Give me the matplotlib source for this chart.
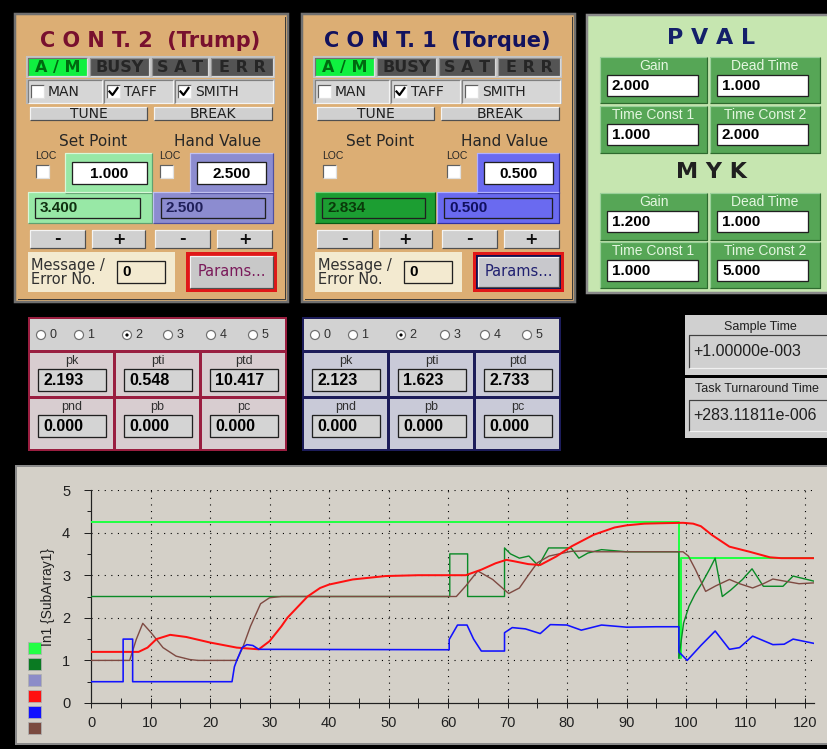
import numpy as np
import matplotlib
matplotlib.use("Agg")
import matplotlib.pyplot as plt
from matplotlib.patches import Rectangle, Circle
from matplotlib.ticker import MultipleLocator

# ---------------- DATA ----------------
# chart series (time, value)
lgreen_t = [0, 98.8, 98.8, 99.1, 99.1, 121.5]
lgreen_v = [4.25, 4.25, 1.05, 1.05, 3.4, 3.4]

dgreen_t = [0, 60.3, 60.3, 63.3, 63.3, 69.5, 69.5, 70.5, 72, 73.6, 75.2, 76.9, 80.7, 82, 83.5, 85.8,
            90, 95, 98.8, 98.8, 99.6, 100.5, 101.5, 102.7, 104, 104.9, 106.1, 107.5, 109.5, 111.1,
            113, 116.3, 118, 121.5]
dgreen_v = [2.5, 2.5, 3.5, 3.5, 2.5, 2.5, 3.64, 3.5, 3.4, 3.45, 3.22, 3.64, 3.64, 3.4, 3.52, 3.6,
            3.55, 3.55, 3.55, 1.05, 1.88, 2.27, 2.55, 2.82, 3.15, 3.4, 2.5, 2.65, 2.9, 3.15,
            2.74, 2.74, 2.98, 2.86]

red_t = [0, 8.0, 9.5, 11, 13.3, 16, 20, 24.5, 28.2, 30, 32, 33, 36.4, 38.5, 40, 44, 49.5, 55, 63,
         65.6, 68, 69.8, 71, 73.5, 75.5, 78.2, 80.8, 84.5, 88, 90, 93, 95.9, 99.5, 101.2, 102.5,
         104.4, 107.3, 110.7, 114.1, 116, 121.5]
red_v = [1.2, 1.2, 1.3, 1.5, 1.6, 1.55, 1.42, 1.3, 1.26, 1.45, 1.8, 2.0, 2.5, 2.7, 2.78, 2.9, 2.98,
         3.0, 3.0, 3.13, 3.28, 3.36, 3.33, 3.26, 3.24, 3.44, 3.68, 3.95, 4.12, 4.17, 4.21, 4.22,
         4.23, 4.21, 4.15, 3.94, 3.67, 3.55, 3.42, 3.4, 3.4]

blue_t = [0, 5.4, 5.4, 7.0, 7.0, 23.7, 24.1, 24.5, 25.4, 26.2, 27.2, 28.2, 60.2, 60.2, 61.6, 63.2,
          64.3, 65.6, 69.5, 69.5, 70.8, 73, 75.5, 77.2, 80, 82.4, 85.8, 90, 95, 98.8, 98.8, 100.2,
          102.5, 104.9, 107.3, 109, 111.2, 114.6, 116.5, 118, 121.5]
blue_v = [0.5, 0.5, 1.5, 1.5, 0.5, 0.5, 0.85, 1.0, 1.3, 1.37, 1.35, 1.26, 1.25, 1.49, 1.83, 1.83,
          1.5, 1.22, 1.22, 1.65, 1.77, 1.74, 1.63, 1.84, 1.83, 1.71, 1.83, 1.78, 1.79, 1.79, 1.2,
          1.0, 1.35, 1.69, 1.26, 1.3, 1.57, 1.37, 1.38, 1.5, 1.4]

brown_t = [0, 6.5, 7.6, 8.7, 10.1, 12.1, 14.3, 16.6, 18, 24.5, 25.5, 26.8, 28.5, 30, 32, 34, 61.4,
           63, 65, 67.5, 70.2, 72, 73.5, 75, 77, 80.7, 83, 85, 90, 95, 99.5, 100.4, 101.6, 103.3,
           105, 107.3, 109, 111.2, 113, 114.6, 117, 119, 121.5]
brown_v = [1.0, 1.0, 1.49, 1.87, 1.65, 1.3, 1.1, 1.02, 1.0, 1.0, 1.3, 1.8, 2.33, 2.47, 2.5, 2.5, 2.5,
           2.75, 3.1, 2.9, 2.57, 2.7, 3.0, 3.29, 3.45, 3.56, 3.57, 3.55, 3.55, 3.55, 3.55, 3.45,
           3.13, 2.62, 2.75, 2.9, 2.8, 2.7, 2.8, 2.91, 2.85, 2.8, 2.82]

legend_colors = ['#22ff44', '#0a7a22', '#8c8cc8', '#ff1010', '#1010ff', '#7a4a40']
x_ticks = [0, 10, 20, 30, 40, 50, 60, 70, 80, 90, 100, 110, 120]
y_ticks = [0, 1, 2, 3, 4, 5]
y_label = 'In1 {SubArray1}'

cont_titles = ['C O N T. 2  (Trump)', 'C O N T. 1  (Torque)']
indicators = ['A / M', 'BUSY', 'S A T', 'E R R']
check_labels = ['MAN', 'TAFF', 'SMITH']
cont2_checks = [False, True, True]
cont1_checks = [False, True, False]
cont2_sp, cont2_hv, cont2_sp_out, cont2_hv_out = '1.000', '2.500', '3.400', '2.500'
cont1_hv, cont1_sp_out, cont1_hv_out = '0.500', '2.834', '0.500'
msg_values = ['0', '0']

pval_labels = ['Gain', 'Dead Time', 'Time Const 1', 'Time Const 2']
pval_values = ['2.000', '1.000', '1.000', '2.000']
myk_values = ['1.200', '1.000', '1.000', '5.000']

radio_labels = ['0', '1', '2', '3', '4', '5']
radio_selected = 2
param_labels = ['pk', 'pti', 'ptd', 'pnd', 'pb', 'pc']
cont2_params = ['2.193', '0.548', '10.417', '0.000', '0.000', '0.000']
cont1_params = ['2.123', '1.623', '2.733', '0.000', '0.000', '0.000']

sample_time = '+1.00000e-003'
turnaround_time = '+283.11811e-006'

# ---------------- FIGURE ----------------
W, H = 827, 749
fig = plt.figure(figsize=(W / 100, H / 100), dpi=100, facecolor='black')
bg = fig.add_axes([0, 0, 1, 1])
bg.set_xlim(0, W)
bg.set_ylim(H, 0)
bg.axis('off')
bg.set_facecolor('black')

SANS = ['Liberation Sans', 'DejaVu Sans']
WIDE = ['DejaVu Sans']
NARROW = ['Liberation Sans Narrow', 'Liberation Sans', 'DejaVu Sans']
PX = 0.72  # one pixel in points

# background dots
gx, gy = np.meshgrid(np.arange(3, W, 9), np.arange(4, H, 9))
bg.scatter(gx.ravel(), gy.ravel(), s=0.35, c='#555555', marker='s', linewidths=0, zorder=0)


def box(x0, y0, x1, y1, fc, ec='none', lw=0, z=1):
    bg.add_patch(Rectangle((x0, y0), x1 - x0, y1 - y0, facecolor=fc, edgecolor=ec,
                           linewidth=lw, zorder=z))


def bevel(x0, y0, x1, y1, fc, raised=True, z=2, light='#f4f4f4', dark='#505050', lw=1.2):
    box(x0, y0, x1, y1, fc, z=z)
    a, b = (light, dark) if raised else (dark, light)
    bg.plot([x0, x0, x1], [y1, y0, y0], color=a, lw=lw * PX, zorder=z + 0.1, solid_capstyle='butt')
    bg.plot([x0, x1, x1], [y1, y1, y0], color=b, lw=lw * PX, zorder=z + 0.1, solid_capstyle='butt')


def txt(x, y, s, size=9, color='black', weight='normal', ha='center', family=SANS, z=5, **kw):
    bg.text(x, y, s, fontsize=size, color=color, fontweight=weight, ha=ha, va='center',
            family=family, zorder=z, **kw)


def field(x0, y0, x1, y1, value, fc='white', tc='black', size=10.5, ha='left', family=SANS,
          weight='bold', z=3, ec='#202020'):
    box(x0, y0, x1, y1, fc, ec=ec, lw=1.3 * PX, z=z)
    if ha == 'left':
        txt(x0 + 5, (y0 + y1) / 2 + 0.5, value, size=size, color=tc, weight=weight, ha='left',
            family=family, z=z + 1)
    else:
        txt((x0 + x1) / 2, (y0 + y1) / 2 + 0.5, value, size=size, color=tc, weight=weight,
            family=family, z=z + 1)


def checkbox(x, y, checked, s=13):
    bevel(x, y, x + s, y + s, 'white', raised=False, z=4, dark='#606060', light='#e0e0e0')
    if checked:
        bg.plot([x + 2.5, x + 5.5, x + 10.5], [y + 6.5, y + 10, y + 3], color='black', lw=2.2 * PX, zorder=5)


# ---------------- CONTROLLER PANELS ----------------
def controller(dx, title, tcol, checks, is2):
    tan = '#dcae74'
    box(15 + dx, 14, 288 + dx, 302, tan, ec='#707070', lw=2.5 * PX, z=1)
    bg.plot([18 + dx, 285 + dx, 285 + dx], [299, 299, 17], color='#3a3a3a', lw=PX, zorder=1.5)
    txt(150 + dx, 41, title, size=15, color=tcol, weight='bold', family=WIDE)
    # indicators
    box(26 + dx, 56, 275 + dx, 78, '#c4c4c4', z=2)
    ind_x = [(28, 87), (90, 149), (152, 208), (211, 273)]
    for i, (a, b) in enumerate(ind_x):
        if i == 0:
            bevel(a + dx, 58, b + dx, 76, '#10f040', raised=False, z=3, dark='#707070', light='#e0e0e0')
            txt((a + b) / 2 + dx, 67.5, indicators[i], size=11.5, color='#006a10', weight='bold',
                family=WIDE)
        else:
            bevel(a + dx, 58, b + dx, 76, '#545454', raised=False, z=3, dark='#909090', light='#d8d8d8')
            txt((a + b) / 2 + dx, 67.5, indicators[i], size=11.5, color='#262626', weight='bold',
                family=WIDE)
    # check boxes
    box(26 + dx, 79, 275 + dx, 104, '#b8b8b8', z=2)
    cb_x = [(28, 102), (104, 173), (175, 273)]
    for i, (a, b) in enumerate(cb_x):
        bevel(a + dx, 80, b + dx, 103, '#d6d6d6', raised=False, z=3, dark='#808080', light='#f4f4f4')
        checkbox(a + 3 + dx, 85, checks[i])
        txt(a + 20 + dx, 92, check_labels[i], size=10, color='#202020', ha='left', family=WIDE)
    # tune / break
    bevel(30 + dx, 107, 147 + dx, 120, '#d0d0d0', z=3)
    bevel(154 + dx, 107, 272 + dx, 120, '#d0d0d0', z=3)
    txt(88.5 + dx, 114, 'TUNE', size=10, color='#202020', family=WIDE)
    txt(213 + dx, 114, 'BREAK', size=10, color='#202020', family=WIDE)
    txt(93 + dx, 142, 'Set Point', size=11, color='#262626', family=WIDE)
    txt(218 + dx, 142, 'Hand Value', size=11, color='#262626', family=WIDE)
    txt(35 + dx, 156, 'LOC', size=7.5, color='#262626', ha='left')
    txt(159 + dx, 156, 'LOC', size=7.5, color='#262626', ha='left')
    checkbox(36 + dx, 165, False)
    checkbox(160 + dx, 165, False)
    if is2:
        sp_light, hv = '#98e8a6', '#8c8cd0'
        bevel(65 + dx, 153, 152 + dx, 193, sp_light, z=2, light='#d8f8d8', dark='#60a070')
        field(72 + dx, 162, 147 + dx, 184, cont2_sp, ha='center', size=11)
        bevel(28 + dx, 192, 152 + dx, 223, sp_light, z=2, light='#d8f8d8', dark='#60a070')
        field(35 + dx, 198, 140 + dx, 218, cont2_sp_out, fc=sp_light, tc='#103010', size=11)
        bevel(190 + dx, 153, 273 + dx, 193, hv, z=2, light='#c0c0f0', dark='#5050a0')
        field(197 + dx, 162, 266 + dx, 184, cont2_hv, ha='center', size=11)
        bevel(153 + dx, 192, 273 + dx, 223, hv, z=2, light='#c0c0f0', dark='#5050a0')
        field(161 + dx, 198, 265 + dx, 218, cont2_hv_out, fc=hv, tc='#20205a', size=11)
    else:
        sp_dark, hv = '#1c9e32', '#6a6af0'
        bevel(28 + dx, 192, 148 + dx, 223, sp_dark, z=2, light='#80d080', dark='#0a5a14')
        field(35 + dx, 198, 138 + dx, 218, cont1_sp_out, fc=sp_dark, tc='#0a3a0a', size=11)
        bevel(190 + dx, 153, 272 + dx, 193, hv, z=2, light='#b0b0ff', dark='#3030a0')
        field(197 + dx, 162, 266 + dx, 184, cont1_hv, ha='center', size=11)
        bevel(150 + dx, 192, 272 + dx, 223, hv, z=2, light='#b0b0ff', dark='#3030a0')
        field(157 + dx, 198, 265 + dx, 218, cont1_hv_out, fc=hv, tc='#101060', size=11)
    for (a, b), s in zip([(30, 85), (92, 145), (155, 210), (217, 272)], ['-', '+', '-', '+']):
        bevel(a + dx, 230, b + dx, 248, '#d0d0d0', z=3)
        txt((a + b) / 2 + dx, 239, s, size=11.5, weight='bold', color='#101010', family=WIDE)
    # message
    box(28 + dx, 252, 175 + dx, 292, '#f3ead0', z=2)
    bg.text(31 + dx, 272.5, 'Message /\nError No.', fontsize=10.5, color='#303030', ha='left',
            va='center', linespacing=0.85, family=WIDE, zorder=5)
    field(117 + dx, 261, 165 + dx, 283, msg_values[0 if is2 else 1], fc='#f3ead0', size=11)
    # params
    box(186 + dx, 252, 277 + dx, 292, '#e01818', z=2)
    if not is2:
        box(189 + dx, 255, 274 + dx, 289, '#101050', z=2.2)
        bevel(191 + dx, 257, 272 + dx, 287, '#c8c8cc', z=2.5)
        txt(231.5 + dx, 272, 'Params...', size=10.5, color='#202070', family=WIDE)
    else:
        bevel(190 + dx, 256, 273 + dx, 288, '#c8c8c8', z=2.5)
        txt(231.5 + dx, 272, 'Params...', size=10.5, color='#7a1a5a', family=WIDE)


controller(0, cont_titles[0], '#78102e', cont2_checks, True)
controller(287, cont_titles[1], '#12125e', cont1_checks, False)

# ---------------- PVAL / MYK ----------------
box(587, 15, 830, 293, '#c6e6b0', ec='#8a8a8a', lw=2.5 * PX, z=1)
txt(711, 38, 'P V A L', size=16, color='#14206a', weight='bold', family=WIDE)
txt(711, 172, 'M Y K', size=16, color='#202020', weight='bold', family=WIDE)


def param_grid(y_rows, values):
    cols = [(600, 707), (710, 820)]
    k = 0
    for (ya, yb) in y_rows:
        for (xa, xb) in cols:
            bevel(xa, ya, xb, yb, '#56a656', z=2, light='#9ad09a', dark='#2e6a2e')
            txt((xa + xb) / 2, ya + 9, pval_labels[k], size=10, color='#e4f6e0')
            field(xa + 7, ya + 18, xa + 98, ya + 39, values[k], size=11)
            k += 1


param_grid([(57, 103), (106, 153)], pval_values)
param_grid([(193, 240), (242, 288)], myk_values)

# ---------------- TUNING PARAMETER PANELS ----------------
def tuning(x0, border, cell_fc, values, radio_x):
    x1 = x0 + 259
    box(x0, 317, x1, 451, border, z=1)
    box(x0 + 2, 319, x1 - 2, 350, '#d2d2d2', z=2)
    for i, rx in enumerate(radio_x):
        cx = x0 + rx
        bg.add_patch(Circle((cx, 335), 4.5, facecolor='white', edgecolor='#707070',
                            linewidth=1.2 * PX, zorder=3))
        if i == radio_selected:
            bg.add_patch(Circle((cx, 335), 1.6, facecolor='black', edgecolor='none', zorder=4))
        txt(cx + 12, 335, radio_labels[i], size=9, color='#303030')
    cols = [(x0 + 2, x0 + 85), (x0 + 88, x0 + 171), (x0 + 174, x1 - 2)]
    rows = [(353, 396), (399, 449)]
    k = 0
    for (ya, yb) in rows:
        for (xa, xb) in cols:
            box(xa, ya, xb, yb, cell_fc, z=2)
            txt((xa + xb) / 2, ya + 8, param_labels[k], size=9, color='#303030', family=NARROW)
            field(xa + 8, ya + 16, xb - 7, ya + 38, values[k], fc='#d4d4d4', size=11.5,
                  family=NARROW)
            k += 1


tuning(28, '#9a1e40', '#d8cdd0', cont2_params, [13, 51, 99, 140, 183, 225])
tuning(302, '#1c1c5a', '#c9cad8', cont1_params, [13, 51, 99, 143, 183, 225])

# ---------------- SAMPLE TIME ----------------
box(685, 315, 830, 375, '#d0d0d0', z=1)
txt(760, 327, 'Sample Time', size=9, color='#202020', family=NARROW)
bevel(689, 335, 830, 368, '#d0d0d0', raised=False, z=2, dark='#404040', light='#f0f0f0')
txt(693, 351, sample_time, size=11.5, color='#202020', ha='left', family=NARROW)
box(685, 378, 830, 438, '#d0d0d0', z=1)
txt(757, 389, 'Task Turnaround Time', size=9, color='#202020', family=NARROW)
bevel(689, 400, 830, 431, '#d0d0d0', raised=False, z=2, dark='#404040', light='#f0f0f0')
txt(693, 415, turnaround_time, size=11.5, color='#202020', ha='left', family=NARROW)

# ---------------- CHART PANEL ----------------
box(16, 466, 830, 744, '#d4d0c8', ec='#8a8a8a', lw=2 * PX, z=1)
for i, c in enumerate(legend_colors):
    box(28, 642 + 16 * i, 41, 654 + 16 * i, c, ec='#b0b0b0', lw=0.8 * PX, z=3)

x_left, x_right = 0, 121.5
ax_l, ax_r, ax_t, ax_b = 91, 91 + 5.95 * 121.5, 490, 703
ax = fig.add_axes([ax_l / W, 1 - ax_b / H, (ax_r - ax_l) / W, (ax_b - ax_t) / H])
ax.set_facecolor('#d4d0c8')
ax.set_xlim(x_left, x_right)
ax.set_ylim(0, 5)

for v in x_ticks[1:]:
    ax.axvline(v, color='black', lw=1.1 * PX, ls=(0, (1, 5)), zorder=1)
for v in y_ticks[1:]:
    ax.axhline(v, color='black', lw=1.1 * PX, ls=(0, (1, 5)), zorder=1)

ax.plot(lgreen_t, lgreen_v, color='#22ff44', lw=2.0 * PX, zorder=3)
ax.plot(dgreen_t, dgreen_v, color='#0a8a26', lw=1.4 * PX, zorder=4)
ax.plot(brown_t, brown_v, color='#7e4a42', lw=1.4 * PX, zorder=4)
ax.plot(red_t, red_v, color='#ff1010', lw=2.0 * PX, zorder=5)
ax.plot(blue_t, blue_v, color='#1212ff', lw=1.6 * PX, zorder=5)

for s in ['top', 'right']:
    ax.spines[s].set_visible(False)
for s in ['left', 'bottom']:
    ax.spines[s].set_color('#202020')
    ax.spines[s].set_linewidth(1.2 * PX)

ax.set_xticks(x_ticks)
ax.xaxis.set_minor_locator(MultipleLocator(5))
ax.set_yticks(y_ticks)
ax.yaxis.set_minor_locator(MultipleLocator(0.5))
ax.tick_params(axis='x', which='both', direction='inout', length=7, width=PX, colors='#202020',
               pad=6, labelsize=10.5)
ax.tick_params(axis='y', which='major', direction='out', length=5, width=PX, colors='#202020',
               pad=10, labelsize=10.5)
ax.tick_params(axis='y', which='minor', direction='out', length=3, width=PX, colors='#202020')
for lab in ax.get_xticklabels() + ax.get_yticklabels():
    lab.set_family(NARROW)
ax.set_ylabel(y_label, fontsize=10, color='#202020', family=SANS)
ax.yaxis.set_label_coords(-36 / (ax_r - ax_l), 0.5)

fig.savefig('out.png', dpi=100, facecolor='black')
